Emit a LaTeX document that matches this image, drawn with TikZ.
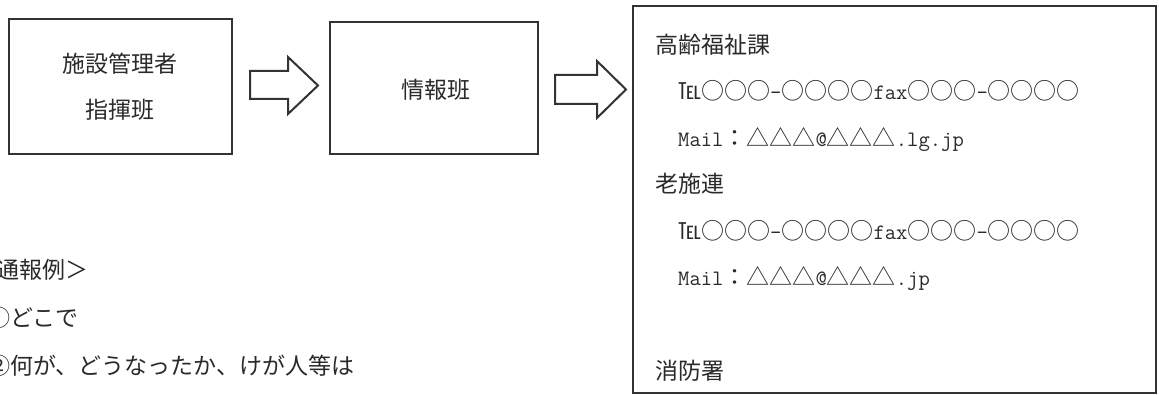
\documentclass[tikz,border=0pt]{standalone}
\usepackage{fontspec}
\newfontfamily\cjk{Noto Sans CJK JP}
\definecolor{ink}{HTML}{333333}
\definecolor{txt}{HTML}{2A2A2A}
\tikzset{
  boxline/.style={draw=ink, line width=2pt},
  blockarrow/.style={draw=ink, line width=2pt, fill=white, line join=miter},
  jtext/.style={text=txt, font=\cjk\fontsize{23}{28}\selectfont, inner sep=0pt},
  lineleft/.style={jtext, anchor=base west},
}
\newcommand{\hwt}[1]{{\ttfamily\fontsize{22}{28}\selectfont #1}}
\begin{document}
\begin{tikzpicture}[x=1pt,y=-1pt]
\useasboundingbox (0,0) rectangle (1159,395);
\clip (0,0) rectangle (1159,395);
\fill[white] (0,0) rectangle (1159,395);
% boxes
\draw[boxline] (9,19) rectangle (232,154);
\draw[boxline] (330,22) rectangle (538,154);
\draw[boxline] (633,6) rectangle (1156,393);
\node[jtext] (b1a) at (120,64) {施設管理者};
\node[jtext] (b1b) at (120,110) {指揮班};
\node[jtext] (b2) at (436,90) {情報班};
% block arrows
\draw[blockarrow] (250,71) -- (288,71) -- (288,57) -- (318,85.5) -- (288,114) -- (288,99) -- (250,99) -- cycle;
\draw[blockarrow] (555,75) -- (597,75) -- (597,61) -- (626,89.5) -- (597,118) -- (597,104) -- (555,104) -- cycle;
% right box contents
\node[lineleft] (t1) at (655,53.5) {高齢福祉課};
\node[lineleft] (t2) at (678,100) {℡○○○\hwt{-}○○○○\hwt{fax}○○○\hwt{-}○○○○};
\node[lineleft] (t3) at (678,146.5) {\hwt{Mail}：△△△\hwt{@}△△△\hwt{.lg.jp}};
\node[lineleft] (t4) at (655,193) {老施連};
\node[lineleft] (t5) at (678,239.5) {℡○○○\hwt{-}○○○○\hwt{fax}○○○\hwt{-}○○○○};
\node[lineleft] (t6) at (678,286) {\hwt{Mail}：△△△\hwt{@}△△△\hwt{.jp}};
\node[lineleft] (t7) at (655,379) {消防署};
% left notes (cut at the left edge, as in the reference)
\node[lineleft] (n1) at (-27,278.5) {＜通報例＞};
\node[lineleft] (n2) at (-13,326.5) {①どこで};
\node[lineleft] (n3) at (-13,374.5) {②何が、どうなったか、けが人等は};
\end{tikzpicture}
\end{document}
